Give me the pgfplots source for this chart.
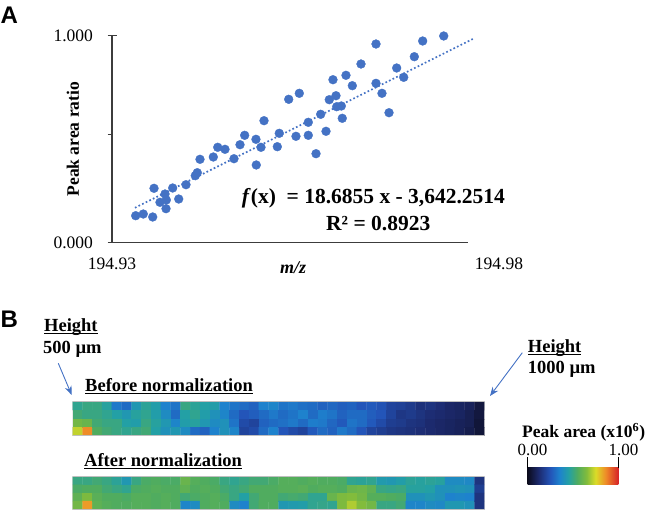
\documentclass[border=0pt]{standalone}
\usepackage{fontspec}
\setmainfont{Liberation Serif}
\newfontfamily\arialfont{Liberation Sans}
\usepackage{graphicx}
\usepackage{pgfplots}
\pgfplotsset{compat=1.18}
\usetikzlibrary{arrows.meta}

\definecolor{dotblue}{RGB}{68,114,196}
\definecolor{axgray}{RGB}{60,60,60}
\definecolor{cmA}{RGB}{12,12,30}
\definecolor{cmB}{RGB}{28,42,110}
\definecolor{cmC}{RGB}{35,85,185}
\definecolor{cmD}{RGB}{30,130,205}
\definecolor{cmE}{RGB}{35,160,165}
\definecolor{cmF}{RGB}{80,172,95}
\definecolor{cmG}{RGB}{130,188,60}
\definecolor{cmH}{RGB}{220,220,40}
\definecolor{cmI}{RGB}{238,140,40}
\definecolor{cmJ}{RGB}{215,35,40}

\pgfplotsset{colormap={peak}{rgb255(0cm)=(12,12,30); rgb255(1.2cm)=(28,42,110); rgb255(2.5cm)=(35,85,185); rgb255(3.5cm)=(30,130,205); rgb255(4.5cm)=(35,160,165); rgb255(5.5cm)=(80,172,95); rgb255(6.5cm)=(130,188,60); rgb255(7.5cm)=(220,220,40); rgb255(8.6cm)=(238,140,40); rgb255(10cm)=(215,35,40)}}

\pgfdeclarehorizontalshading{peakbar}{100bp}{color(0bp)=(cmA); color(25bp)=(cmA); color(31bp)=(cmB); color(37.5bp)=(cmC); color(42.5bp)=(cmD); color(47.5bp)=(cmE); color(52.5bp)=(cmF); color(57.5bp)=(cmG); color(62.5bp)=(cmH); color(68bp)=(cmI); color(75bp)=(cmJ); color(100bp)=(cmJ)}

% m/z values are written in full. The trafo keeps only the digits after
% 194.9 as 0.ddd..., i.e. (m/z - 194.9)*10, so TeX keeps full precision.
% Input arrives either raw (194.93000) or as a parsed float (1Y1.9493306e2]).
\def\mzfloat 1Y1.949#1e#2]#3\relax{\def\pgfmathresult{0.#1}}
\def\mzraw 194.9#1\relax{\def\pgfmathresult{0.#1}}
\def\mzcheck#1#2#3\relax{\ifx Y#2\def\mznext{\mzfloat#1#2#3\relax}\else\def\mznext{\mzraw#1#2#3\relax}\fi\mznext}
\newcommand\mzcoord[1]{\edef\mztmp{#1}\expandafter\mzcheck\mztmp\relax}

\pgfplotsset{heat/.style={scale only axis, width=411.6pt,
  xmin=-0.5, xmax=41.5, ymin=-0.5, ymax=3.5, y dir=reverse,
  hide axis, colormap name=peak, point meta min=0, point meta max=1}}

\begin{document}
\begin{tikzpicture}[x=1pt,y=1pt]
\useasboundingbox (0,0) rectangle (653,-511);

\node[anchor=base west, inner sep=0, font=\arialfont\bfseries\fontsize{24}{24}\selectfont] at (0.5,-24) {A};
\node[anchor=base west, inner sep=0, font=\arialfont\bfseries\fontsize{24}{24}\selectfont] at (0.5,-327) {B};

% ---------- Panel A: scatter ----------
\begin{axis}[
  at={(112pt,-242.7pt)}, anchor=south west, scale only axis,
  width=387pt, height=207pt,
  x coord trafo/.code={\mzcoord{#1}},
  xmin=194.93000, xmax=194.98000, ymin=0, ymax=1,
  clip=false,
  axis line style={draw=none},
  tick pos=left,
  ytick={0,1}, yticklabels={0.000,1.000},
  xtick={194.93000,194.98000}, xticklabels={194.93,194.98},
  xtick style={draw=none},
  ytick style={axgray, line width=1.1pt},
  major tick length=9pt, tick align=center,
  extra y ticks={0.5217}, extra y tick labels={},
  extra y tick style={tick align=outside, major tick length=4.5pt, tick style={black!30, line width=1.1pt}},
  /pgf/number format/assume math mode=true,
  ticklabel style={font=\fontsize{17.5}{20}\selectfont},
  yticklabel style={xshift=-11pt},
  xticklabel style={yshift=-7pt},
  ylabel={\textbf{Peak area ratio}},
  ylabel style={at={(axis description cs:-0.1008,0.5)}, anchor=center, font=\fontsize{17.5}{20}\selectfont},
  xlabel={\textbf{\textit{m/z}}},
  xlabel style={at={(axis description cs:0.468,-0.122)}, anchor=center, font=\fontsize{18}{20}\selectfont},
]
\draw[axgray, line width=1.3pt] (rel axis cs:0,1) -- (rel axis cs:0,0) -- (rel axis cs:0.92,0);
\addplot[only marks, mark=*, mark size=4.4pt, mark options={fill=dotblue, draw=dotblue}] coordinates {
(194.93306,0.1304) (194.93404,0.1386) (194.93526,0.1242) (194.93543,0.2628)
(194.93685,0.2353) (194.93620,0.1952) (194.93702,0.2063) (194.93698,0.1643)
(194.93784,0.2643) (194.93862,0.2111) (194.93956,0.2802) (194.94076,0.3237)
(194.94102,0.3382) (194.94137,0.4029) (194.94309,0.4140) (194.94366,0.4609)
(194.94460,0.4512) (194.94576,0.4058) (194.94654,0.4734) (194.94714,0.5188)
(194.94860,0.4995) (194.94864,0.3754) (194.94925,0.4609) (194.94964,0.5894)
(194.95136,0.4638) (194.95161,0.5285) (194.95283,0.6928) (194.95420,0.7217)
(194.95377,0.5140) (194.95536,0.5188) (194.95536,0.5816) (194.95636,0.4300)
(194.95696,0.6203) (194.95765,0.5382) (194.95807,0.6908) (194.95855,0.7874)
(194.95894,0.7101) (194.95903,0.6570) (194.95963,0.6604) (194.95975,0.6010)
(194.96023,0.8087) (194.96105,0.7585) (194.96217,0.8633) (194.96411,0.9599)
(194.96411,0.7700) (194.96488,0.7217) (194.96579,0.6280) (194.96678,0.8440)
(194.96769,0.7990) (194.96906,0.8986) (194.97014,0.9744) (194.97286,0.9986)
};
\addplot[dotblue, line width=1.7pt, dash pattern=on 1.7pt off 2.3pt] coordinates {(194.93297,0.1686) (194.97664,0.9846)};
\end{axis}

\node[anchor=base west, inner sep=0, font=\bfseries\fontsize{21.5}{24}\selectfont] at (241.7,-203.3) {\textit{f}(x)\ \ = 18.6855 x - 3,642.2514};
\node[anchor=base west, inner sep=0, font=\bfseries\fontsize{21.5}{24}\selectfont] at (326,-230) {R² = 0.8923};

% ---------- Panel B ----------
\node[anchor=base west, inner sep=0, font=\bfseries\fontsize{18.5}{20}\selectfont] at (44,-331.7) {\underline{\smash{Height}}};
\node[anchor=base west, inner sep=0, font=\bfseries\fontsize{18.5}{20}\selectfont] at (43,-353.3) {500 µm};
\node[anchor=base west, inner sep=0, font=\bfseries\fontsize{18.5}{20}\selectfont] at (527.7,-352.3) {\underline{\smash{Height}}};
\node[anchor=base west, inner sep=0, font=\bfseries\fontsize{18.5}{20}\selectfont] at (527.7,-373.3) {1000 µm};
\draw[dotblue, line width=0.9pt, -{Stealth[length=9pt,width=7pt]}] (58.3,-363.3) -- (71.7,-395);
\draw[dotblue, line width=0.9pt, -{Stealth[length=9pt,width=7pt]}] (522.3,-352.7) -- (490,-396);
\node[anchor=base west, inner sep=0, font=\bfseries\fontsize{18.5}{20}\selectfont] at (85,-391.7) {\underline{\smash{Before normalization}}};
\node[anchor=base west, inner sep=0, font=\bfseries\fontsize{18.5}{20}\selectfont] at (84,-466.7) {\underline{\smash{After normalization}}};

\begin{axis}[heat, at={(72.7pt,-401.7pt)}, anchor=north west, height=34pt]
\addplot[matrix plot*, mesh/cols=42, point meta=explicit] table[row sep=\\, x expr={mod(\coordindex,42)}, y expr={floor((\coordindex+0.5)/42)}, meta=c] {
c\\
0.48\\0.50\\0.50\\0.46\\0.33\\0.30\\0.42\\0.47\\0.44\\0.35\\0.32\\0.50\\0.47\\0.45\\0.44\\0.35\\0.32\\0.30\\0.28\\0.35\\0.36\\0.32\\0.33\\0.31\\0.30\\0.28\\0.29\\0.27\\0.28\\0.25\\0.26\\0.24\\0.20\\0.19\\0.17\\0.14\\0.15\\0.13\\0.11\\0.10\\0.09\\0.05\\
0.52\\0.50\\0.50\\0.48\\0.45\\0.42\\0.46\\0.48\\0.44\\0.38\\0.30\\0.45\\0.48\\0.44\\0.40\\0.36\\0.30\\0.25\\0.27\\0.30\\0.33\\0.30\\0.32\\0.35\\0.30\\0.34\\0.32\\0.28\\0.30\\0.30\\0.27\\0.25\\0.20\\0.16\\0.17\\0.15\\0.13\\0.12\\0.11\\0.10\\0.08\\0.05\\
0.62\\0.60\\0.52\\0.50\\0.50\\0.45\\0.44\\0.50\\0.46\\0.42\\0.36\\0.44\\0.46\\0.42\\0.38\\0.40\\0.32\\0.22\\0.20\\0.28\\0.30\\0.31\\0.33\\0.30\\0.34\\0.33\\0.29\\0.26\\0.32\\0.30\\0.26\\0.22\\0.18\\0.17\\0.15\\0.14\\0.12\\0.11\\0.10\\0.09\\0.08\\0.04\\
0.72\\0.86\\0.55\\0.52\\0.50\\0.48\\0.50\\0.52\\0.45\\0.40\\0.42\\0.38\\0.30\\0.28\\0.35\\0.40\\0.36\\0.20\\0.22\\0.30\\0.35\\0.25\\0.22\\0.20\\0.26\\0.30\\0.28\\0.33\\0.30\\0.25\\0.20\\0.18\\0.16\\0.15\\0.14\\0.13\\0.12\\0.11\\0.10\\0.09\\0.07\\0.04\\
};
\draw[black!25, line width=0.6pt] (rel axis cs:0,0) rectangle (rel axis cs:1,1);
\end{axis}

\begin{axis}[heat, at={(72.7pt,-476.7pt)}, anchor=north west, height=32.6pt]
\addplot[matrix plot*, mesh/cols=42, point meta=explicit] table[row sep=\\, x expr={mod(\coordindex,42)}, y expr={floor((\coordindex+0.5)/42)}, meta=c] {
c\\
0.50\\0.50\\0.52\\0.50\\0.47\\0.42\\0.50\\0.54\\0.55\\0.54\\0.54\\0.60\\0.56\\0.55\\0.54\\0.50\\0.48\\0.50\\0.52\\0.52\\0.54\\0.56\\0.56\\0.55\\0.56\\0.55\\0.55\\0.54\\0.48\\0.47\\0.48\\0.43\\0.42\\0.44\\0.47\\0.46\\0.47\\0.46\\0.38\\0.38\\0.37\\0.15\\
0.54\\0.55\\0.55\\0.52\\0.50\\0.48\\0.54\\0.55\\0.56\\0.55\\0.55\\0.58\\0.55\\0.56\\0.55\\0.52\\0.50\\0.52\\0.55\\0.55\\0.55\\0.56\\0.56\\0.57\\0.55\\0.56\\0.56\\0.55\\0.60\\0.61\\0.58\\0.50\\0.49\\0.50\\0.46\\0.46\\0.45\\0.40\\0.40\\0.41\\0.40\\0.18\\
0.58\\0.64\\0.57\\0.55\\0.55\\0.54\\0.56\\0.56\\0.55\\0.56\\0.55\\0.52\\0.54\\0.55\\0.56\\0.54\\0.50\\0.45\\0.52\\0.55\\0.55\\0.52\\0.53\\0.52\\0.48\\0.48\\0.60\\0.64\\0.65\\0.62\\0.56\\0.56\\0.55\\0.54\\0.40\\0.40\\0.42\\0.40\\0.35\\0.36\\0.35\\0.15\\
0.62\\0.84\\0.58\\0.56\\0.55\\0.55\\0.56\\0.56\\0.55\\0.56\\0.55\\0.36\\0.38\\0.55\\0.56\\0.55\\0.38\\0.35\\0.52\\0.55\\0.55\\0.42\\0.43\\0.44\\0.48\\0.49\\0.48\\0.64\\0.70\\0.65\\0.62\\0.50\\0.50\\0.52\\0.36\\0.36\\0.38\\0.37\\0.42\\0.42\\0.40\\0.15\\
};
\draw[black!25, line width=0.6pt] (rel axis cs:0,0) rectangle (rel axis cs:1,1);
\end{axis}

% colour scale
\node[anchor=base west, inner sep=0, font=\bfseries\fontsize{17.5}{20}\selectfont] at (522,-437.5) {Peak area (x10\textsuperscript{6})};
\fill[shading=peakbar] (527.7,-467.7) rectangle (618.3,-484.3);
\draw[black, line width=0.8pt] (527.7,-467.7) -- (527.7,-456.7);
\draw[black, line width=0.8pt] (618.0,-467.7) -- (618.0,-456.7);
\node[anchor=base, inner sep=0, font=\fontsize{17}{20}\selectfont] at (532.5,-455) {0.00};
\node[anchor=base, inner sep=0, font=\fontsize{17}{20}\selectfont] at (623.5,-455) {1.00};
\end{tikzpicture}
\end{document}
